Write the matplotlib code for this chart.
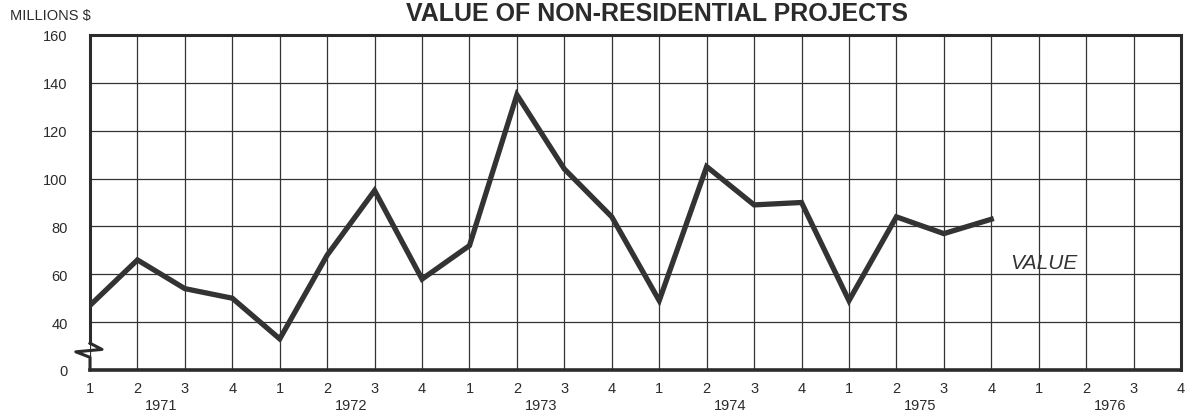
import matplotlib
matplotlib.use("Agg")
import matplotlib.pyplot as plt
import matplotlib.transforms as mtransforms

plt.rcParams['font.family'] = ['Liberation Sans', 'DejaVu Sans']

# quarterly values, 1971 Q1 .. 1975 Q4 (millions $)
values = [47, 66, 54, 50, 33, 68, 95, 58, 72, 135, 104, 84,
          49, 105, 89, 90, 49, 84, 77, 83]
years = ['1971', '1972', '1973', '1974', '1975', '1976']
quarter_labels = ['1', '2', '3', '4'] * len(years)
y_ticks = [20, 40, 60, 80, 100, 120, 140, 160]
y_labels = ['0', '40', '60', '80', '100', '120', '140', '160']

ink = '#2b2b2b'

fig = plt.figure(figsize=(11.89, 4.14), dpi=100)
ax = fig.add_axes([90/1189, 1-371/414, (1181-90)/1189, (371-36)/414])

x = list(range(len(values)))
ax.plot(x, values, color='#333333', lw=3.8, solid_joinstyle='miter', zorder=3)

ax.set_xlim(0, len(quarter_labels) - 1)
ax.set_ylim(20, 160)
ax.set_xticks(range(len(quarter_labels)))
ax.set_xticklabels(quarter_labels, fontsize=10.5, color=ink)
ax.set_yticks(y_ticks)
ax.set_yticklabels(y_labels, fontsize=10.5, color=ink)
ax.tick_params(length=0, pad=8)
ax.tick_params(axis='y', pad=16)
ax.grid(True, color='#333333', lw=0.9)

for side in ['top', 'right', 'bottom']:
    ax.spines[side].set_color(ink)
    ax.spines[side].set_linewidth(2.2)
ax.spines['bottom'].set_linewidth(2.6)
ax.spines['left'].set_visible(False)

# left axis with break mark
bt = mtransforms.blended_transform_factory(ax.transAxes, ax.transData)
ax.plot([0, 0], [160, 31.2], color=ink, lw=2.2, transform=bt, clip_on=False)
ax.plot([0, 0.011, -0.013, 0, 0], [31.2, 28.6, 27.6, 25.3, 20],
        color=ink, lw=2.2, transform=bt, clip_on=False)

# year labels
xt = mtransforms.blended_transform_factory(ax.transData, ax.transAxes)
for k, yr in enumerate(years):
    ax.text(4*k + 1.5, -0.105, yr, transform=xt, ha='center', va='center',
            fontsize=10.5, color=ink)

ax.text(20.1, 65, 'VALUE', fontsize=15, style='italic', color='#333333',
        ha='center', va='center')

fig.text(10/1189, 1-16/414, 'MILLIONS $', fontsize=10.5, color=ink,
         ha='left', va='center')
fig.text(657/1189, 1-14/414, 'VALUE OF NON-RESIDENTIAL PROJECTS',
         fontsize=18, fontweight='bold', color=ink, ha='center', va='center')

fig.savefig('out.png', dpi=100)
